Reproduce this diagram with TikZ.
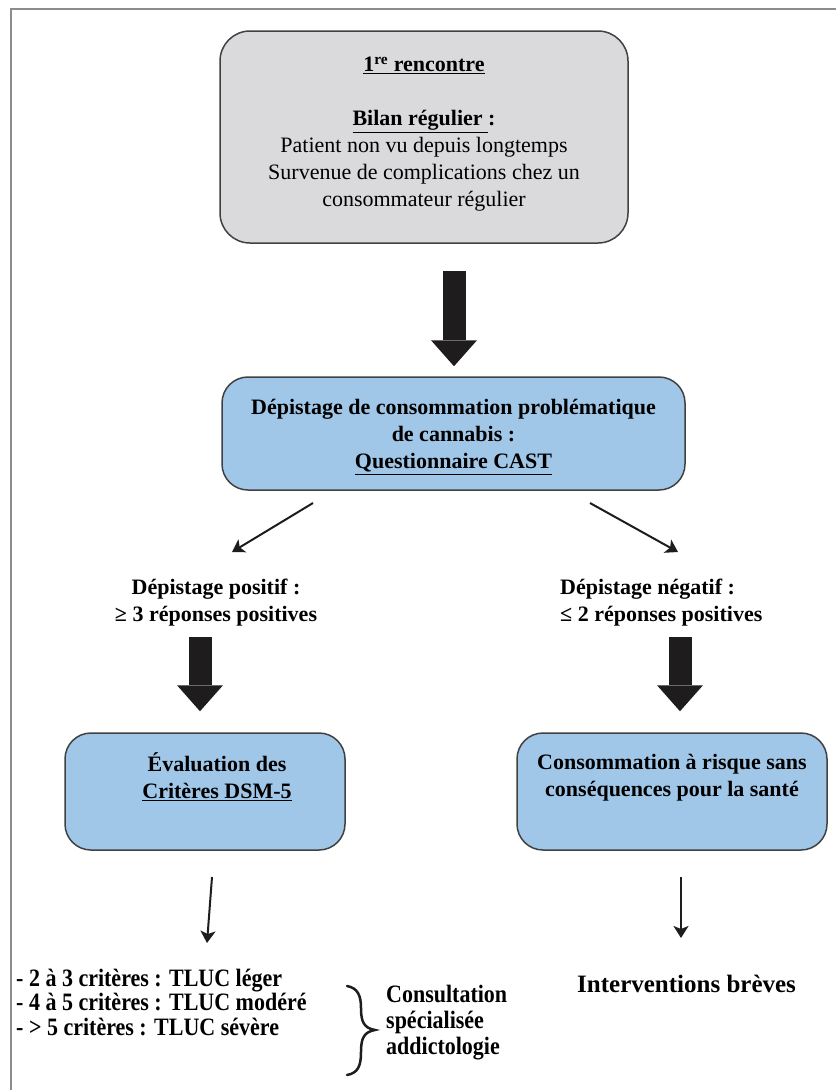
\documentclass[tikz,border=0pt]{standalone}
\usepackage{fontspec}
\setmainfont{Liberation Serif}
\newfontfamily\narrowfont[FakeStretch=0.88]{Liberation Serif}
\usetikzlibrary{arrows.meta,calc}

\definecolor{framegray}{RGB}{140,140,140}
\definecolor{boxgray}{RGB}{218,218,220}
\definecolor{boxblue}{RGB}{160,198,232}
\definecolor{edgegray}{RGB}{65,65,65}
\definecolor{arrowblack}{RGB}{30,28,28}

\tikzset{
  greybox/.style={draw=edgegray,line width=1.5pt,fill=boxgray,rounded corners=30pt},
  bluebox/.style={draw=edgegray,line width=1.5pt,fill=boxblue,rounded corners=26pt},
  boxtext/.style={align=center,inner sep=0pt},
  fatarrow/.style={line width=23pt,arrowblack,-{Triangle[width=46pt,length=26pt,line width=0pt]}},
  thinarrow/.style={line width=2pt,arrowblack,-{Stealth[width=15pt,length=12pt,inset=3pt]}},
}

\begin{document}
\begin{tikzpicture}[x=1pt,y=-1pt,font=\fontsize{22}{27}\selectfont]
\useasboundingbox (0,0) rectangle (836,1090);
\draw[framegray,line width=2.5pt] (11,1090) -- (11,9) -- (836,9);

% the boxes
\node[greybox,minimum width=408pt,minimum height=212pt] (visit) at (424,137) {};
\node[boxtext] (visittxt) at (424,134) {\textbf{\underline{1\textsuperscript{re} rencontre}}\\[27pt]
  \textbf{\underline{Bilan régulier }:}\\Patient non vu depuis longtemps\\
  Survenue de complications chez un\\consommateur régulier};

\node[bluebox,minimum width=463pt,minimum height=113pt] (cast) at (453.5,433.5) {};
\node[boxtext,font=\fontsize{22}{27}\selectfont\bfseries] (casttxt) at (453.5,437)
  {Dépistage de consommation problématique\\de cannabis :\\\underline{Questionnaire CAST}};

\node[bluebox,minimum width=280pt,minimum height=117pt] (eval) at (205,791.5) {};
\node[boxtext,font=\fontsize{22}{27}\selectfont\bfseries] (evaltxt) at (217,776.5)
  {Évaluation des\\\underline{Critères DSM-5}};

\node[bluebox,minimum width=310pt,minimum height=117pt] (risk) at (672,791.5) {};
\node[boxtext,font=\fontsize{22}{27}\selectfont\bfseries] (risktxt) at (672,778)
  {Consommation à risque sans\\conséquences pour la santé};

% screening results
\node[boxtext,font=\fontsize{22}{27}\selectfont\bfseries] (pos) at (216,603)
  {Dépistage positif :\\≥ 3 réponses positives};
\node[boxtext,align=left,anchor=west,font=\fontsize{22}{27}\selectfont\bfseries] (neg) at (560,603)
  {Dépistage négatif :\\≤ 2 réponses positives};

% outcomes
\node[boxtext,align=left,anchor=west,font=\narrowfont\bfseries\fontsize{25}{24.5}\selectfont] (grades) at (16,1002)
  {- 2 à 3 critères : TLUC léger\\- 4 à 5 critères : TLUC modéré\\- > 5 critères : TLUC sévère};
\node[boxtext,align=left,anchor=west,font=\narrowfont\bfseries\fontsize{25}{26}\selectfont] (consult) at (386,1023)
  {Consultation\\spécialisée\\addictologie};
\node[boxtext,anchor=west,font=\bfseries\fontsize{25}{30}\selectfont] (brief) at (577,984)
  {Interventions brèves};
\draw[arrowblack,line width=2.5pt,line cap=round]
  (347,986) .. controls (358,988) and (361,996) .. (361,1008)
  .. controls (361,1022) and (364,1028) .. (375,1030)
  .. controls (364,1032) and (361,1038) .. (361,1052)
  .. controls (361,1066) and (358,1073) .. (347,1075);

% arrows
\draw[fatarrow] ($(cast.north)+(0.5,-105)$) -- ($(cast.north)+(0.5,-10)$);
\draw[fatarrow] ($(eval.north)+(-5,-95)$) -- ($(eval.north)+(-5,-21)$);
\draw[fatarrow] ($(risk.north)+(8,-95)$) -- ($(risk.north)+(8,-21)$);

\coordinate (castleft) at (313,503);
\coordinate (castright) at (590,503);
\coordinate (posin) at (232,552);
\coordinate (negin) at (678,552);
\draw[thinarrow] (castleft) -- (posin);
\draw[thinarrow] (castright) -- (negin);

\coordinate (evalout) at (212,877);
\coordinate (gradein) at (207,943);
\coordinate (riskout) at (681,877);
\coordinate (briefin) at (681,938);
\draw[thinarrow] (evalout) -- (gradein);
\draw[thinarrow] (riskout) -- (briefin);
\end{tikzpicture}
\end{document}
